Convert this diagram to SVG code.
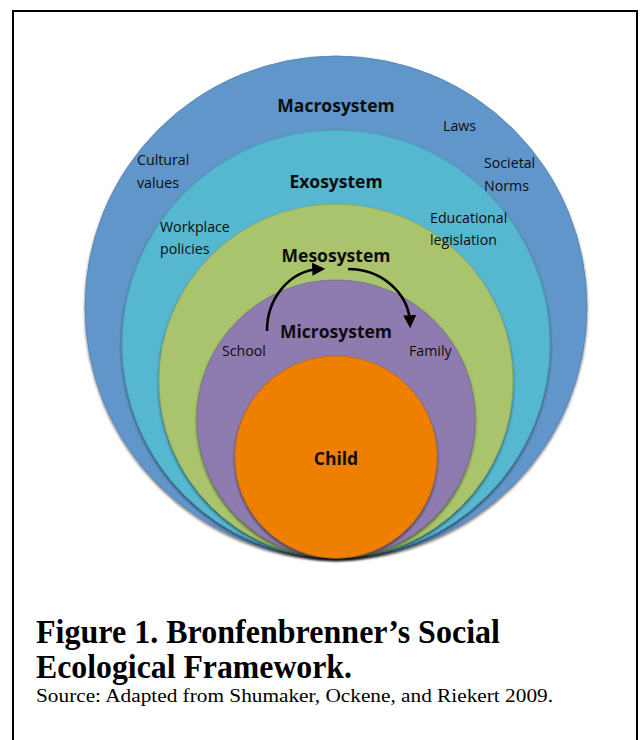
<svg xmlns="http://www.w3.org/2000/svg" width="643" height="740" viewBox="0 0 643 740">
  <defs>
    <filter id="shadow" x="-10%" y="-10%" width="120%" height="120%">
      <feGaussianBlur in="SourceAlpha" stdDeviation="1.6"/>
      <feOffset dx="0" dy="2" result="blur"/>
      <feComponentTransfer><feFuncA type="linear" slope="0.55"/></feComponentTransfer>
      <feMerge><feMergeNode/><feMergeNode in="SourceGraphic"/></feMerge>
    </filter>
    <marker id="head" viewBox="0 0 10 10" refX="6" refY="5" markerWidth="5" markerHeight="5" orient="auto" markerUnits="strokeWidth">
      <path d="M0,0 L10,5 L0,10 z" fill="#000"/>
    </marker>
    <style>
      .ring { filter: url(#shadow); stroke-width: 0.8; }
      .title { font-family: "Open Sans", "Lato", "Liberation Sans", sans-serif; font-weight: bold; font-size: 17.5px; fill: #0d0d0d; text-anchor: middle; }
      .lbl { font-family: "Open Sans", "Lato", "Liberation Sans", sans-serif; font-size: 14.2px; fill: #0d0d0d; }
      .cap { font-family: "Liberation Serif", "Times New Roman", serif; fill: #000; }
      .arrow { fill: none; stroke: #000; stroke-width: 2.6; marker-end: url(#head); }
    </style>
  </defs>

  <rect width="643" height="740" fill="#fff"/>
  <!-- frame, open at the bottom -->
  <path d="M13,742 V11 H637 V742" fill="none" stroke="#000" stroke-width="2"/>

  <!-- nested rings, all touching at the bottom point (336,558) -->
  <g id="macrosystem">
    <circle class="ring" cx="336" cy="307" r="251" fill="#6096C9" stroke="#4F80AE"/>
  </g>
  <g id="exosystem">
    <circle class="ring" cx="336" cy="344" r="214" fill="#57B7D0" stroke="#479CB2"/>
  </g>
  <g id="mesosystem">
    <circle class="ring" cx="336" cy="381" r="177" fill="#A9C46C" stroke="#8FA85A"/>
  </g>
  <g id="microsystem">
    <circle class="ring" cx="336" cy="419" r="139" fill="#8E7BB0" stroke="#786797"/>
  </g>
  <g id="child">
    <circle class="ring" cx="336" cy="457" r="101" fill="#EE7F06" stroke="#C96B05"/>
    <text class="title" x="336" y="465">Child</text>
  </g>

  <!-- ring labels sit above every ring -->
  <g id="macrosystem-labels">
    <text class="title" x="336" y="112">Macrosystem</text>
    <text class="lbl" x="443" y="131">Laws</text>
    <text class="lbl" x="137" y="165">Cultural</text>
    <text class="lbl" x="137" y="188">values</text>
    <text class="lbl" x="484" y="168">Societal</text>
    <text class="lbl" x="484" y="191">Norms</text>
  </g>
  <g id="exosystem-labels">
    <text class="title" x="336" y="188">Exosystem</text>
    <text class="lbl" x="160" y="232">Workplace</text>
    <text class="lbl" x="160" y="254">policies</text>
    <text class="lbl" x="430" y="223">Educational</text>
    <text class="lbl" x="430" y="245">legislation</text>
  </g>
  <g id="mesosystem-labels">
    <text class="title" x="336" y="262">Mesosystem</text>
  </g>
  <g id="microsystem-labels">
    <text class="title" x="336" y="338">Microsystem</text>
    <text class="lbl" x="222" y="356">School</text>
    <text class="lbl" x="409" y="356">Family</text>
  </g>

  <g id="connectors">
    <path class="arrow" d="M267,331 A55,62 0 0 1 320,269"/>
    <path class="arrow" d="M348,269 A62,56 0 0 1 410,323"/>
  </g>

  <g id="caption">
    <text class="cap" x="36" y="643" font-size="33" font-weight="bold" textLength="464" lengthAdjust="spacingAndGlyphs">Figure 1. Bronfenbrenner’s Social</text>
    <text class="cap" x="36" y="678" font-size="33" font-weight="bold" textLength="316" lengthAdjust="spacingAndGlyphs">Ecological Framework.</text>
    <text class="cap" x="36" y="702" font-size="19" textLength="517" lengthAdjust="spacingAndGlyphs">Source: Adapted from Shumaker, Ockene, and Riekert 2009.</text>
  </g>
</svg>
